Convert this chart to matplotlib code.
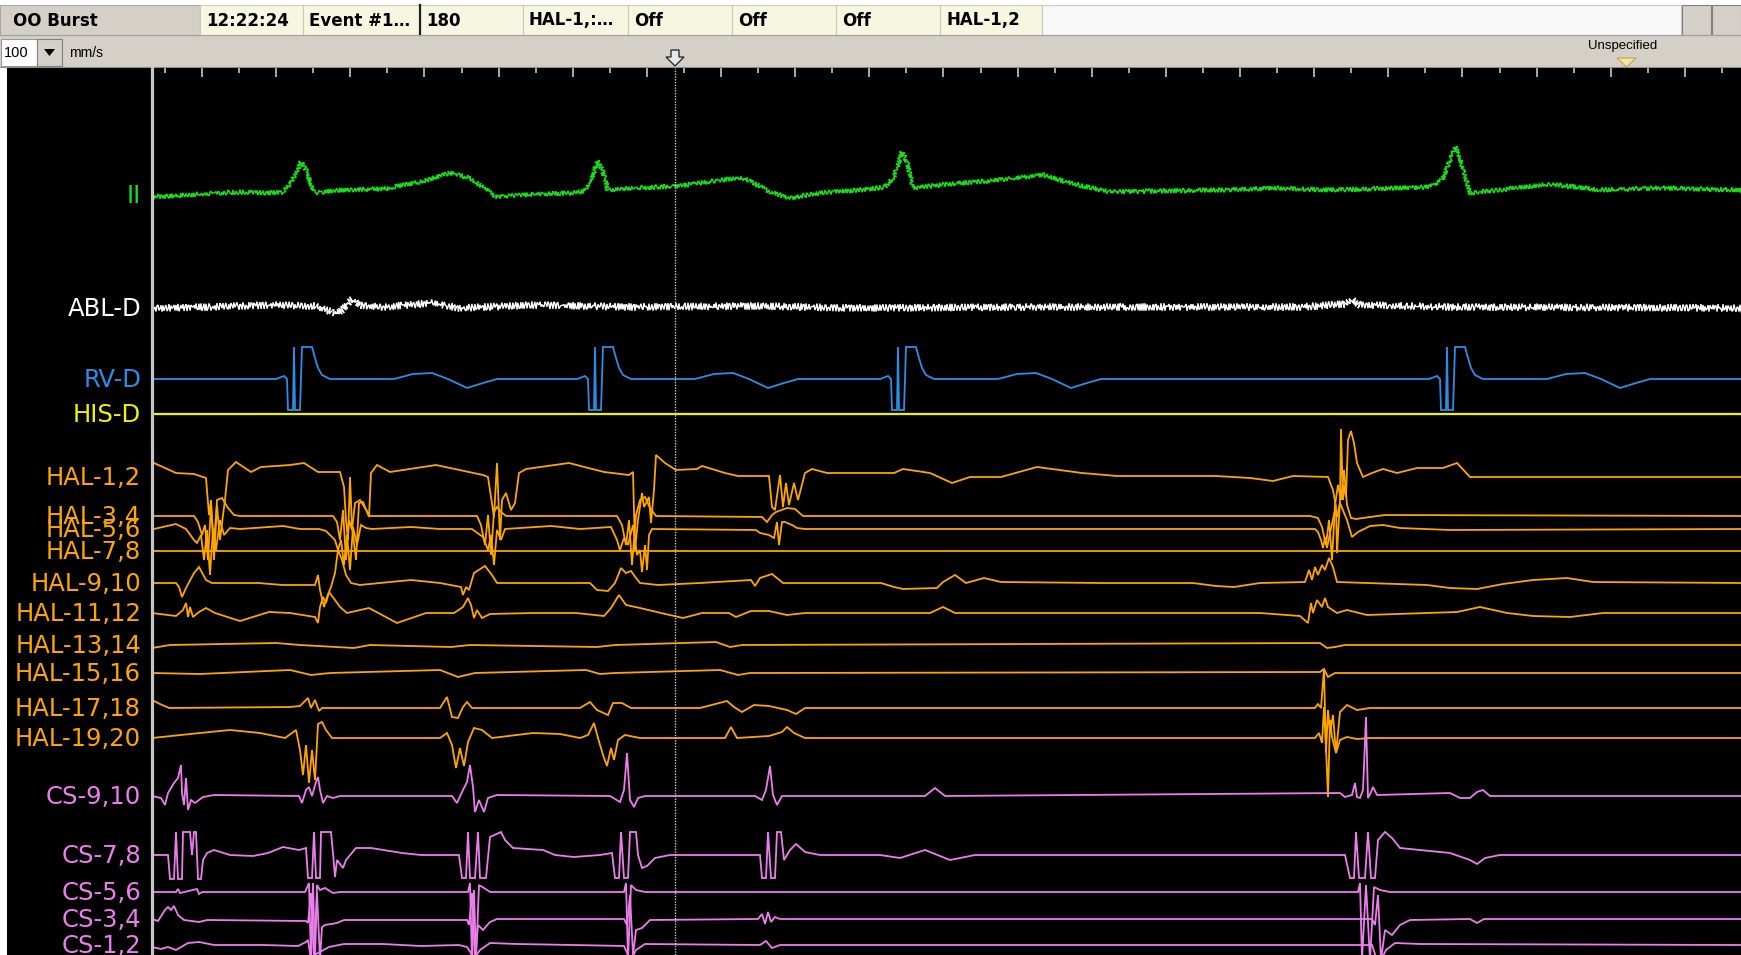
import numpy as np
import matplotlib
matplotlib.use("Agg")
import matplotlib.pyplot as plt
from matplotlib.patches import Rectangle, Polygon
from matplotlib.transforms import blended_transform_factory

# ============================ DATA ============================
HEADER_TITLE = "OO Burst"
HEADER_CELLS = ["12:22:24", "Event #1\u2026", "180", "HAL-1,:\u2026", "Off", "Off", "Off", "HAL-1,2"]
SPEED_VALUE = "100"
SPEED_UNIT = "mm/s"
MARKER_LABEL = "Unspecified"

SWEEP_MS = 1589          # visible sweep length (ms)
CURSOR_MS = 523          # cursor position (ms)
TICK_FIRST_MS = 13
TICK_STEP_MS = 37.07

LABELS = ["II", "ABL-D", "RV-D", "HIS-D", "HAL-1,2", "HAL-3,4", "HAL-5,6", "HAL-7,8",
          "HAL-9,10", "HAL-11,12", "HAL-13,14", "HAL-15,16", "HAL-17,18", "HAL-19,20",
          "CS-9,10", "CS-7,8", "CS-5,6", "CS-3,4", "CS-1,2"]

# each trace: (time ms, deflection) pairs, deflection positive = upward
II_TRACE = [(0,-2),(48,1),(88,3),(118,2),(131,3),(139,12),(149,33),(154,25),(160,8),(163,2),(188,5),
            (231,6),(268,13),(298,22),(318,17),(345,-2),(388,1),(422,2),(432,4),(439,12),(445,35),
            (450,26),(456,5),(488,7),(528,9),(568,15),(593,17),(618,3),(638,-3),(668,2),(708,5),
            (733,8),(742,18),(750,43),(755,33),(761,7),(798,11),(848,15),(891,20),(918,12),(958,3),
            (1008,4),(1068,5),(1128,7),(1178,5),(1248,7),(1278,8),(1290,15),(1296,30),(1304,49),
            (1310,30),(1318,2),(1348,5),(1398,11),(1448,5),(1508,7),(1589,5)]
ABL_TRACE = [(0,0),(60,1),(116,3),(162,2),(180,-4),(185,-6),(190,-2),(200,9),(208,3),(231,1),(280,5),
             (307,0),(384,3),(480,1),(600,2),(700,0),(900,1),(1150,1),(1192,4),(1200,8),(1208,3),
             (1300,1),(1589,0)]
RV_BEAT_ONSETS = [136, 437, 740, 1289]
RV_BEAT_SHAPE = [(-12,0),(-4,3),(-1,0),(0,-31),(5,-31),(6,32),(7,-31),(12,-31),(14,32),(24,32),(27,21),
                 (30,11),(34,4),(42,0),(106,0),(125,5),(144,6),(160,0),(179,-9),(195,-4),(209,0)]
HIS_TRACE = [(0,0),(1589,0)]
HAL12_TRACE = [(0,14),(2,14),(24,4),(42,3),(54,-1),(57,-38),(59,-23),(62,-83),(65,-28),(68,-63),(71,-38),
               (73,-23),(76,7),(84,15),(99,5),(109,10),(138,12),(152,14),(166,5),(188,5),(192,-10),
               (194,-43),(196,-63),(198,0),(200,-50),(204,-83),(207,-26),(211,-25),(217,-40),(219,4),
               (225,12),(238,5),(284,12),(331,2),(336,0),(342,-40),(345,14),(348,-63),(350,-23),
               (354,-16),(359,-33),(363,-26),(367,4),(374,8),(417,14),(452,5),(477,2),(481,5),(483,-73),
               (486,-43),(490,-16),(492,-30),(497,-20),(499,-46),(502,-13),(504,22),(513,14),(524,7),
               (545,8),(550,11),(573,4),(586,1),(617,1),(620,-30),(623,-33),(628,2),(631,-30),(634,-6),
               (637,-28),(642,-6),(646,-23),(653,4),(660,8),(675,4),(742,4),(751,8),(778,4),(800,-6),
               (818,0),(849,0),(885,10),(930,4),(965,1),(1064,1),(1098,-1),(1121,-4),(1141,1),(1176,0),
               (1181,-13),(1184,-30),(1185,-76),(1188,-23),(1189,48),(1191,-23),(1192,-8),(1194,-20),
               (1196,37),(1199,46),(1202,34),(1205,14),(1211,0),(1220,4),(1231,8),(1245,4),(1265,9),
               (1291,9),(1305,14),(1318,0),(1589,0)]
HAL34_TRACE = [(0,0),(42,0),(46,-6),(50,-19),(53,-9),(56,-44),(59,11),(62,-29),(65,16),(70,18),(76,8),
               (82,1),(88,0),(181,0),(185,-6),(188,-24),(191,6),(194,-44),(197,-4),(200,-14),(203,13),
               (208,16),(213,8),(218,0),(325,0),(329,-9),(333,-29),(336,1),(339,-39),(342,4),(345,9),
               (349,4),(354,0),(465,0),(470,-9),(474,-29),(477,-4),(480,-49),(484,1),(488,16),(493,19),
               (498,8),(504,0),(610,-1),(615,-6),(620,1),(624,4),(635,8),(643,7),(651,0),(1158,0),
               (1166,-2),(1170,-11),(1174,-29),(1177,-4),(1180,-44),(1183,11),(1186,31),(1189,16),
               (1192,46),(1195,11),(1199,-2),(1204,-3),(1218,-1),(1233,1),(1589,0)]
HAL56_TRACE = [(0,0),(2,0),(24,5),(34,0),(42,-11),(45,-14),(49,-6),(52,-31),(55,-1),(58,-46),(61,1),
               (64,-21),(68,9),(72,-6),(78,1),(88,0),(131,3),(148,0),(167,0),(174,-2),(183,-11),
               (186,-21),(189,-11),(192,-36),(195,-6),(198,-41),(201,2),(205,-16),(209,4),(214,1),
               (220,0),(259,2),(288,0),(320,0),(331,-8),(336,-21),(339,-6),(342,-36),(345,-1),(349,-11),
               (353,0),(399,3),(428,0),(459,2),(465,-11),(468,-21),(472,-9),(476,-16),(481,4),(485,-26),
               (488,-21),(490,-43),(493,-16),(495,-41),(497,-6),(500,0),(604,-1),(608,-4),(617,-6),
               (622,-9),(625,7),(627,-16),(630,7),(633,7),(640,4),(645,1),(653,0),(1163,0),(1166,-3),
               (1169,-11),(1171,-19),(1173,-8),(1175,-19),(1178,-4),(1183,19),(1185,12),(1188,26),
               (1195,9),(1200,-8),(1206,-3),(1218,3),(1231,4),(1248,1),(1298,-1),(1589,0)]
HAL78_TRACE = [(0,0),(1589,0)]
HAL910_TRACE = [(0,0),(24,0),(27,-4),(30,-14),(34,-5),(42,10),(47,16),(54,3),(60,0),(106,0),(131,-2),
                (163,-2),(166,8),(168,-7),(172,-24),(175,-14),(179,-4),(183,10),(186,33),(190,23),
                (194,8),(199,0),(208,-2),(238,1),(259,3),(288,0),(309,-4),(311,-12),(314,-4),(317,-7),
                (322,10),(333,17),(340,8),(345,0),(438,0),(445,-7),(456,-8),(463,0),(467,10),(469,15),
                (474,10),(479,12),(484,5),(488,0),(506,-2),(548,0),(599,3),(603,-3),(608,5),(620,9),
                (631,0),(729,0),(742,-4),(751,-6),(785,-5),(791,1),(803,8),(814,0),(832,5),(849,1),
                (948,0),(1041,0),(1064,-3),(1082,-4),(1108,0),(1153,1),(1157,13),(1160,3),(1163,16),
                (1166,8),(1170,18),(1173,13),(1177,25),(1181,16),(1185,1),(1275,-2),(1298,-5),(1325,-6),
                (1351,-1),(1381,3),(1415,5),(1441,1),(1589,0)]
HAL1112_TRACE = [(0,0),(24,-3),(31,3),(34,10),(36,-4),(38,6),(41,-4),(47,1),(54,5),(63,0),(88,-8),
                 (117,1),(138,0),(163,-4),(166,-10),(168,6),(171,16),(174,10),(177,21),(183,13),(188,6),
                 (195,0),(217,5),(245,-10),(274,0),(302,0),(311,6),(316,15),(319,8),(322,-5),(325,3),
                 (330,-5),(338,-1),(381,0),(424,0),(452,-3),(459,5),(467,18),(474,8),(488,5),(509,0),
                 (531,-5),(550,0),(577,0),(584,-4),(599,2),(617,2),(635,-2),(653,0),(778,0),(791,6),
                 (803,0),(1108,0),(1148,-3),(1156,-10),(1159,10),(1161,0),(1165,13),(1170,6),(1173,15),
                 (1176,6),(1185,0),(1195,3),(1215,-2),(1305,1),(1328,6),(1355,0),(1381,-3),(1418,-4),
                 (1451,0),(1589,0)]
HAL1314_TRACE = [(0,-3),(6,-2),(18,0),(124,2),(148,0),(202,-3),(218,0),(299,-2),(318,0),(445,-2),(463,0),
                 (564,3),(578,-2),(590,0),(1168,2),(1175,-3),(1183,-2),(1193,0),(1589,0)]
HAL1516_TRACE = [(0,0),(48,-1),(138,3),(159,-2),(178,0),(288,3),(306,-4),(323,0),(434,3),(448,-1),(463,0),
                 (568,3),(586,-2),(598,0),(1168,1),(1172,4),(1176,-4),(1183,0),(1589,0)]
HAL1718_TRACE = [(0,8),(8,4),(17,0),(138,1),(148,2),(156,10),(159,0),(163,8),(167,-3),(170,0),(288,0),
                 (295,11),(300,-9),(306,-10),(311,1),(315,6),(320,0),(428,0),(438,6),(445,-2),(456,-7),
                 (461,5),(470,5),(479,0),(548,0),(575,7),(582,1),(590,-4),(602,3),(617,2),(635,-2),
                 (644,-6),(653,0),(1163,0),(1166,4),(1169,0),(1172,39),(1174,-45),(1176,-2),(1178,-25),
                 (1181,-7),(1184,-45),(1188,-4),(1195,3),(1205,-2),(1218,0),(1589,0)]
HAL1920_TRACE = [(0,0),(48,5),(78,8),(108,5),(133,0),(140,5),(144,8),(148,-12),(151,-37),(154,-7),
                 (157,-45),(160,-12),(163,-42),(166,14),(170,16),(174,8),(180,0),(288,0),(295,5),(300,-7),
                 (304,-30),(308,-10),(312,-28),(316,-4),(322,10),(330,8),(340,0),(381,5),(408,4),(428,0),
                 (436,3),(442,15),(446,0),(451,-17),(455,-28),(459,-10),(462,-22),(466,-2),(473,3),
                 (488,0),(573,0),(579,11),(585,0),(617,2),(630,6),(635,11),(642,5),(653,0),(1163,0),
                 (1167,5),(1170,-5),(1172,31),(1174,-9),(1176,-59),(1178,18),(1180,1),(1184,-15),
                 (1188,-2),(1195,1),(1205,-1),(1218,0),(1589,0)]
CS910_TRACE = [(0,0),(9,-2),(13,-9),(16,3),(22,13),(26,18),(29,31),(30,3),(32,-9),(34,18),(36,-14),
               (39,-4),(43,-7),(51,-1),(62,1),(147,0),(150,-7),(154,6),(157,9),(160,0),(164,14),(166,19),
               (168,6),(171,-7),(175,0),(181,-2),(188,0),(300,0),(305,-7),(311,6),(315,14),(318,31),
               (321,9),(323,-16),(327,-4),(332,-16),(336,-2),(345,1),(458,0),(468,-6),(472,6),(475,43),
               (478,-4),(482,-11),(486,-2),(493,0),(603,0),(610,-4),(614,6),(618,30),(621,1),(625,-9),
               (630,0),(773,0),(783,8),(793,0),(1188,3),(1193,-1),(1200,1),(1203,13),(1205,-1),
               (1208,-2),(1211,6),(1214,79),(1216,-2),(1219,4),(1221,9),(1225,1),(1298,3),(1308,-2),
               (1318,-2),(1325,4),(1331,6),(1338,0),(1589,0)]
CS78_TRACE = [(0,0),(16,0),(18,-24),(22,-24),(24,23),(26,-24),(30,-24),(31,23),(38,23),(40,0),(42,23),
              (44,23),(46,-24),(49,-24),(51,-5),(55,2),(62,5),(78,0),(101,-1),(116,2),(131,8),(147,5),
              (154,7),(156,-23),(160,-23),(162,23),(164,-23),(168,-23),(169,23),(179,23),(181,2),
              (183,-22),(185,-5),(191,-13),(194,-5),(204,7),(219,7),(250,2),(269,0),(307,0),(310,-23),
              (314,-23),(316,23),(318,-23),(323,-23),(326,23),(328,-23),(334,-23),(338,18),(349,23),
              (353,15),(361,7),(391,5),(403,0),(422,-2),(448,0),(460,2),(463,-23),(467,-23),(469,23),
              (472,-23),(476,-23),(478,23),(484,23),(486,0),(490,-13),(495,-11),(503,-3),(518,0),
              (608,0),(610,-23),(614,-23),(616,23),(619,-23),(623,-23),(625,23),(629,23),(632,-5),
              (638,5),(644,11),(653,3),(668,0),(728,0),(748,-3),(773,5),(798,-5),(823,0),(1193,0),
              (1198,-23),(1202,-23),(1204,23),(1207,-23),(1213,-23),(1216,23),(1219,-23),(1223,-23),
              (1226,15),(1233,23),(1240,17),(1248,7),(1268,5),(1298,2),(1318,-5),(1325,-9),(1333,-3),
              (1348,0),(1589,0)]
CS56_TRACE = [(0,0),(24,0),(26,3),(28,-1),(45,3),(47,-2),(50,0),(153,0),(157,9),(159,-68),(161,9),
              (163,-68),(165,7),(168,2),(173,4),(181,-1),(188,0),(316,0),(318,9),(320,-68),(322,2),
              (324,-68),(327,7),(332,4),(338,0),(472,0),(474,9),(476,-68),(479,7),(484,2),(493,0),
              (1206,0),(1208,9),(1210,-68),(1214,7),(1218,-68),(1222,5),(1228,2),(1238,0),(1589,0)]
CS34_TRACE = [(0,0),(6,-2),(13,9),(16,12),(19,9),(22,13),(26,4),(32,-1),(47,-3),(55,-1),(154,-2),
              (156,-4),(159,26),(162,-41),(165,26),(168,-41),(170,-8),(173,-6),(185,-4),(192,-1),
              (315,-1),(317,-6),(320,26),(323,-41),(326,-6),(331,-11),(338,-3),(345,0),(472,0),(475,-6),
              (478,24),(481,-36),(484,-11),(490,-9),(498,-1),(606,0),(610,5),(613,-5),(616,7),(619,-3),
              (623,2),(628,0),(1220,0),(1223,-6),(1226,24),(1229,-41),(1233,-11),(1240,-16),(1248,-6),
              (1258,-1),(1318,0),(1325,-4),(1332,0),(1589,0)]
CS12_TRACE = [(0,-2),(9,-4),(16,-2),(24,-5),(36,2),(47,3),(62,0),(112,0),(146,-1),(154,3),(156,5),
              (159,-15),(162,-10),(166,-8),(177,-2),(192,1),(231,1),(269,-1),(307,0),(315,-2),(319,-8),
              (321,-15),(328,-5),(338,2),(365,1),(422,0),(472,-1),(476,-10),(479,-15),(484,-5),(493,1),
              (608,0),(614,4),(620,-3),(628,0),(1220,0),(1225,-15),(1229,-15),(1234,-5),(1243,2),
              (1268,1),(1589,0)]

RV_TRACE = [(0, 0)] + [(t0 + r, a) for t0 in RV_BEAT_ONSETS for (r, a) in RV_BEAT_SHAPE] + [(SWEEP_MS, 0)]

TRACES = [II_TRACE, ABL_TRACE, RV_TRACE, HIS_TRACE, HAL12_TRACE, HAL34_TRACE, HAL56_TRACE, HAL78_TRACE,
          HAL910_TRACE, HAL1112_TRACE, HAL1314_TRACE, HAL1516_TRACE, HAL1718_TRACE, HAL1920_TRACE,
          CS910_TRACE, CS78_TRACE, CS56_TRACE, CS34_TRACE, CS12_TRACE]

# ============================ LAYOUT / STYLE ============================
ROW_POS = [127, 240, 311, 346, 409, 448, 461, 483, 515, 545, 577, 605, 640, 670, 728, 787, 824, 851, 877]
GREEN, WHITE, BLUE, YELLOW, ORANGE, VIOLET = "#16e016", "#ffffff", "#2a8ee8", "#f2f200", "#ffa500", "#ec7eec"
ROW_COLORS = [GREEN, WHITE, BLUE, YELLOW] + [ORANGE] * 10 + [VIOLET] * 5

W, H = 1741, 955
PLOT_LEFT, PLOT_TOP = 152, 68
fig = plt.figure(figsize=(W / 100, H / 100), dpi=100)
fig.patch.set_facecolor("#d4d0c8")

# ---- window chrome (pixel coordinates) ----
ui = fig.add_axes([0, 0, 1, 1])
ui.set_xlim(0, W)
ui.set_ylim(H, 0)
ui.axis("off")

def rect(x0, y0, x1, y1, fc, ec="none", lw=0.0, z=1):
    ui.add_patch(Rectangle((x0, y0), x1 - x0, y1 - y0, facecolor=fc, edgecolor=ec, linewidth=lw, zorder=z))

rect(0, 0, W, 5, "#ffffff")
rect(0, 5, 200, 35, "#d4d0c8", "#a8a8a0", 0.8)
cell_edges = [200, 303, 420, 523, 628, 732, 836, 940, 1042]
for i, txt in enumerate(HEADER_CELLS):
    rect(cell_edges[i], 5, cell_edges[i + 1], 35, "#f7f7e1", "#c9c9bd", 0.8)
    ui.text(cell_edges[i] + 6, 20.5, txt, fontsize=12, fontweight="bold", family="DejaVu Sans",
            va="center", ha="left", color="#000000", zorder=3)
ui.plot([420, 420], [5, 35], color="#202020", lw=1.6, zorder=3)
rect(1042, 5, 1681, 35, "#f9f9f9", "#c8c8c8", 0.8)
rect(1682, 5, 1711, 35, "#d4d0c8", "#808080", 0.8)
rect(1712, 5, 1741, 35, "#d4d0c8", "#808080", 0.8)
ui.text(13, 20.5, HEADER_TITLE, fontsize=12, fontweight="bold", family="DejaVu Sans",
        va="center", ha="left", color="#000000", zorder=3)
ui.plot([0, W], [35.5, 35.5], color="#a0a0a0", lw=0.8, zorder=3)

# speed selector
rect(1, 39, 37, 66, "#ffffff", "#9a9a9a", 0.8, z=2)
ui.text(4, 53, SPEED_VALUE, fontsize=10.5, family="Liberation Sans", va="center", ha="left", color="#000")
rect(37, 39, 62, 66, "#d4d0c8", "#808080", 0.8, z=2)
ui.add_patch(Polygon([[44, 49], [55, 49], [49.5, 56]], closed=True, facecolor="#000", edgecolor="none", zorder=3))
ui.text(69, 53, SPEED_UNIT, fontsize=10, family="Liberation Sans", va="center", ha="left", color="#000")

# cursor arrow icon
ui.add_patch(Polygon([[671, 50], [679, 50], [679, 57], [684, 57], [675, 66], [666, 57], [671, 57]],
                     closed=True, facecolor="#e8e8e8", edgecolor="#303030", linewidth=1.0, zorder=3))
# marker label and triangle
ui.text(1623, 46, MARKER_LABEL, fontsize=9.5, family="Liberation Sans", va="center", ha="center", color="#000")
ui.add_patch(Polygon([[1617, 58], [1636, 58], [1626.5, 67]], closed=True, facecolor="#f2e4a8",
                     edgecolor="#d0a040", linewidth=0.8, zorder=3))
ui.plot([0, W], [67.5, 67.5], color="#8c8c8c", lw=0.8, zorder=3)

# label panel
rect(0, 68, 7, H, "#ffffff")
rect(7, 68, PLOT_LEFT, H, "#000000")

# ---- signal axes ----
ax = fig.add_axes([PLOT_LEFT / W, 0, (W - PLOT_LEFT) / W, (H - PLOT_TOP) / H])
ax.set_facecolor("#000000")
ax.set_xlim(0, SWEEP_MS)
ax.set_ylim(H - PLOT_TOP, 0)
for s in ("right", "bottom", "top"):
    ax.spines[s].set_visible(False)
ax.spines["left"].set_color("#c4c4c4")
ax.spines["left"].set_linewidth(2.3)
ax.set_yticks([])
ticks = TICK_FIRST_MS + TICK_STEP_MS * np.arange(0, 43)
ax.xaxis.set_ticks_position("top")
ax.set_xticks(ticks[1::2])
ax.set_xticks(ticks[0::2], minor=True)
ax.tick_params(axis="x", which="major", direction="in", length=6.5, width=1.1, color="#d8d8d8",
               labeltop=False, labelbottom=False)
ax.tick_params(axis="x", which="minor", direction="in", length=3.6, width=1.1, color="#d8d8d8")

for i, (lab, trace) in enumerate(zip(LABELS, TRACES)):
    t = np.array([p[0] for p in trace], dtype=float)
    a = np.array([p[1] for p in trace], dtype=float)
    lw = 1.6 if lab == "HIS-D" else 1.3
    line, = ax.plot(t, ROW_POS[i] - a, color=ROW_COLORS[i], lw=lw, solid_joinstyle="miter", zorder=2)
    if lab == "II":
        line.set_sketch_params(scale=2.4, length=3.0, randomness=2.0)
        line.set_linewidth(1.1)
    elif lab == "ABL-D":
        line.set_sketch_params(scale=3.8, length=2.8, randomness=1.6)
        line.set_linewidth(1.0)

trans = blended_transform_factory(ax.transAxes, ax.transData)
for i, lab in enumerate(LABELS):
    ax.text(-11 / (W - PLOT_LEFT), ROW_POS[i] + 1, lab, transform=trans, ha="right", va="center",
            fontsize=17.5, family="DejaVu Sans", color=ROW_COLORS[i], clip_on=False, zorder=5)

ax.axvline(CURSOR_MS, color="#c8c8c8", lw=1.0, linestyle=(0, (1, 1)), zorder=4)

fig.savefig("out.png", dpi=100, facecolor=fig.get_facecolor())
